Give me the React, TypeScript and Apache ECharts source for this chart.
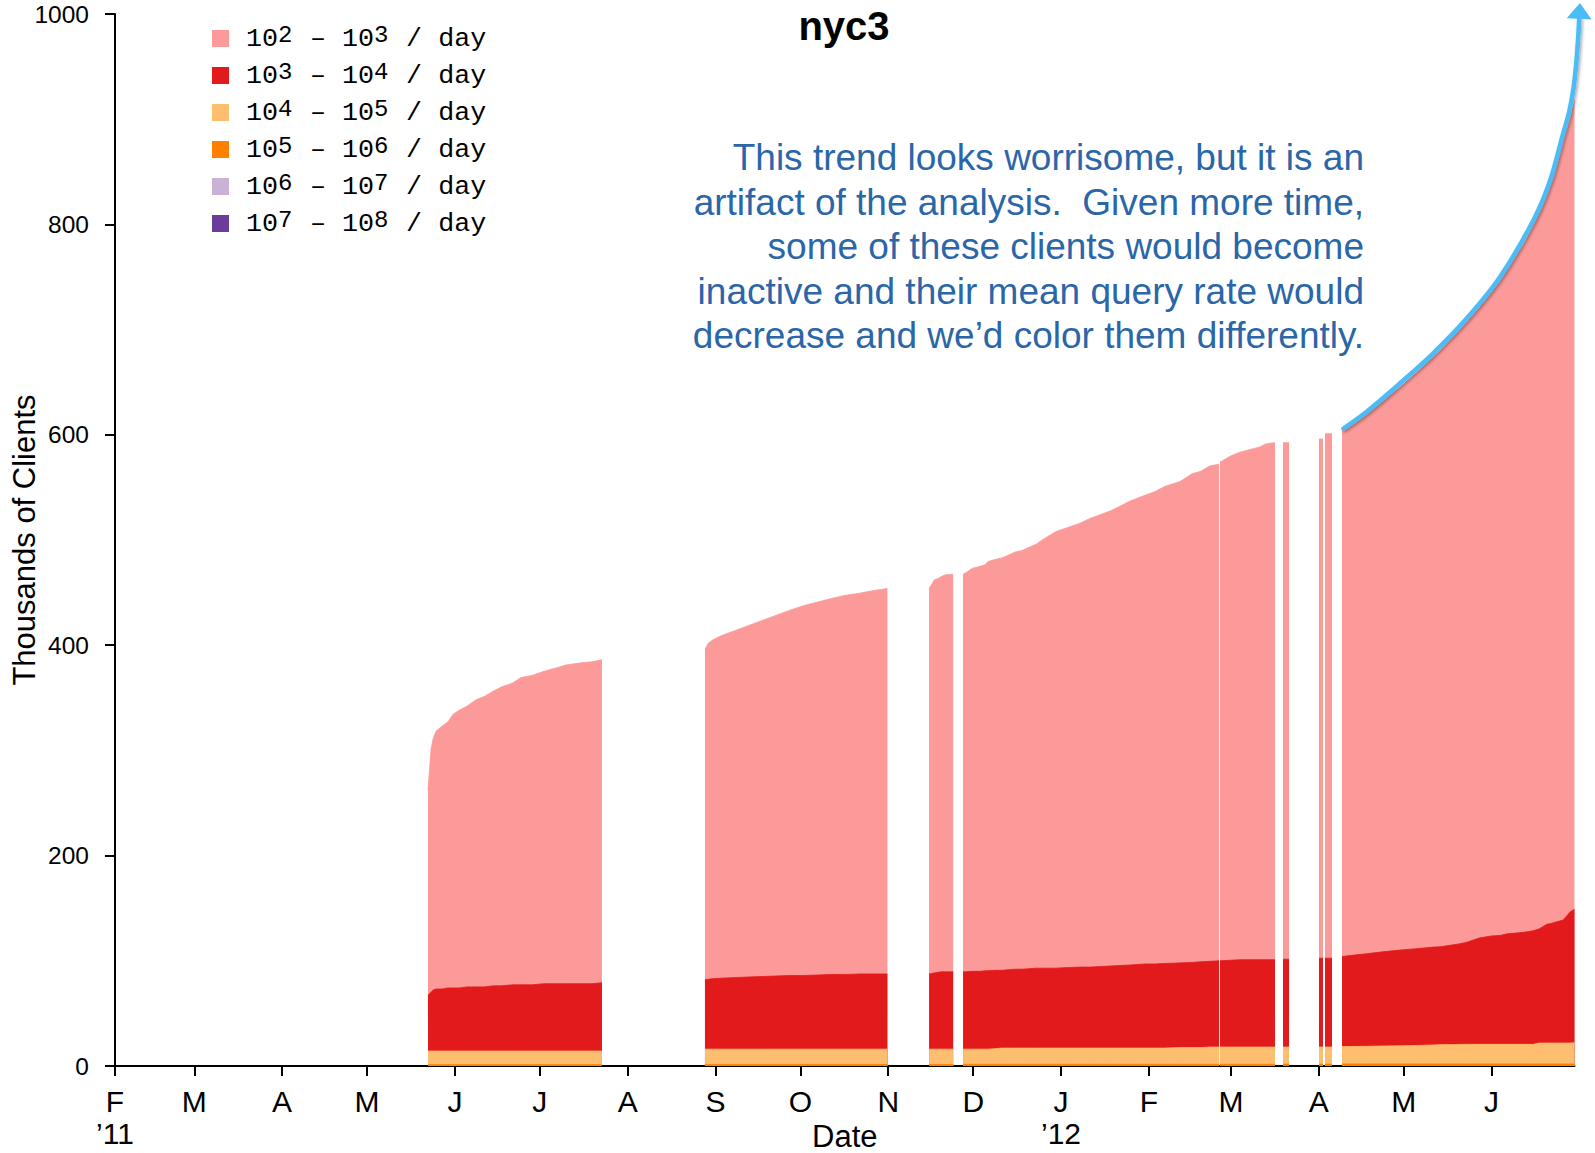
import React, { useEffect, useRef } from 'react';
import * as echarts from 'echarts';

const SANS = "'Liberation Sans', Arial, Helvetica, sans-serif";
const MONO = "'Liberation Mono', 'Courier New', monospace";

// Reading times (UTC, "YYYY-MM-DD HH"); a time whose values are null marks a stretch without data.
const dates = [
  // late May – July 2011
  '2011-05-22 12', '2011-05-23 14', '2011-05-24 08', '2011-05-25 08', '2011-05-27 12', '2011-05-29 14', '2011-05-31 08', '2011-06-02 12', '2011-06-05 08', '2011-06-08 12', '2011-06-11 08',
  '2011-06-14 12', '2011-06-17 08', '2011-06-21 12', '2011-06-24 08', '2011-06-28 04', '2011-07-02 12', '2011-07-06 10', '2011-07-10 04', '2011-07-15 12', '2011-07-19 10', '2011-07-22 22',
  '2011-08-10 00',
  // September – October 2011
  '2011-08-28 07', '2011-08-29 12', '2011-08-31 00', '2011-09-03 00', '2011-09-07 00', '2011-09-12 00', '2011-09-17 00', '2011-09-22 00',
  '2011-09-27 00', '2011-10-02 00', '2011-10-07 00', '2011-10-12 00', '2011-10-17 00', '2011-10-22 00', '2011-10-27 00', '2011-10-31 17',
  '2011-11-08 00',
  // mid November 2011
  '2011-11-15 10', '2011-11-16 12', '2011-11-17 05', '2011-11-18 14', '2011-11-19 14', '2011-11-20 07', '2011-11-21 10', '2011-11-23 22',
  '2011-11-25 12',
  // late November 2011 – February 2012
  '2011-11-27 10', '2011-11-28 12', '2011-11-30 14', '2011-12-03 10', '2011-12-05 05', '2011-12-06 05', '2011-12-08 17', '2011-12-11 05', '2011-12-13 07', '2011-12-15 19',
  '2011-12-18 05', '2011-12-20 17', '2011-12-23 05', '2011-12-25 07', '2011-12-30 06', '2012-01-02 10', '2012-01-07 17', '2012-01-11 06', '2012-01-14 18', '2012-01-18 07',
  '2012-01-21 20', '2012-01-25 09', '2012-01-30 16', '2012-02-03 05', '2012-02-06 17', '2012-02-12 00', '2012-02-16 06', '2012-02-19 02', '2012-02-22 15', '2012-02-25 19',
  '2012-02-26 00',
  // late February – mid March 2012
  '2012-02-26 03', '2012-02-29 16', '2012-03-04 05', '2012-03-07 18', '2012-03-11 06', '2012-03-13 01', '2012-03-14 19', '2012-03-16 13',
  '2012-03-18 00',
  '2012-03-19 09', '2012-03-21 12',
  '2012-03-26 00',
  '2012-04-01 02', '2012-04-02 12',
  '2012-04-02 20',
  '2012-04-03 05', '2012-04-05 16',
  '2012-04-07 00',
  // April – June 2012
  '2012-04-09 05', '2012-04-12 00', '2012-04-17 22', '2012-04-23 12', '2012-04-29 17', '2012-05-05 12', '2012-05-11 11', '2012-05-13 19', '2012-05-20 12', '2012-05-23 06', '2012-05-27 14', '2012-05-31 20',
  '2012-06-04 00', '2012-06-06 11', '2012-06-12 11', '2012-06-15 18', '2012-06-17 18', '2012-06-20 14', '2012-06-21 16', '2012-06-23 18', '2012-06-26 08', '2012-06-28 17', '2012-06-30 07',
];

// Thousands of clients in each mean-query-rate class (queries per day).
const rate2to3 = [
  195, 231, 239, 245, 250, 253, 260, 264, 267, 273, 276, 280, 284, 287, 292, 294, 297, 300, 303, 305, 306, 307,
  null,
  314, 319.5, 322, 325.5, 329, 333.5, 338, 342.5, 347, 351.5, 354.5, 357.5, 360.5, 362, 364.5, 366.5,
  null,
  366.5, 370.5, 373.5, 374.5, 375.5, 376.5, 377.5, 378,
  null,
  378, 379.5, 383, 385, 386, 389, 390.5, 392, 394, 396.5, 398, 400.5, 403, 407, 415, 417.5, 422, 426.5, 429.5, 432.5,
  436.5, 441, 445.5, 449, 453.5, 457.5, 464.5, 466, 471, 472,
  null,
  474, 479, 482.5, 485, 487.5, 490, 491, 491.5,
  null,
  491, 491,
  null,
  493.5, 493.5,
  null,
  498.5, 498.5,
  null,
  500, 504, 512.5, 523.5, 535, 547.5, 561, 566.5, 583, 589.5, 599.5, 611.5, 622, 631.5, 654.5, 670.5, 683, 695, 701.5, 720, 743, 754, 769,
];

const rate3to4 = [
  53, 56, 58, 59, 59, 60, 60, 60, 61, 61, 61, 62, 62, 63, 63, 63, 64, 64, 64, 64, 64, 65,
  null,
  66, 66.5, 67, 67.5, 68, 68.5, 69, 69.5, 70, 70, 70.5, 71, 71, 71.5, 71.5, 71.5,
  null,
  71.5, 72, 72.5, 73, 73.5, 73.5, 73.5, 73.5,
  null,
  73.5, 73.5, 74, 74, 74.5, 74.5, 74.5, 74, 74.5, 75, 75, 75.5, 76, 76, 76, 76.5, 77, 77, 77.5, 78,
  78.5, 79, 80, 80, 80.5, 80.5, 81, 81.5, 81.5, 82,
  null,
  82, 82.5, 83, 83, 83, 83, 83, 83,
  null,
  83.5, 83.5,
  null,
  84.5, 84.5,
  null,
  84.5, 84.5,
  null,
  85.5, 86.5, 88, 89.5, 91, 92, 93, 93, 95.5, 97, 101, 103, 103.5, 105, 106.5, 108, 108.5, 113, 113.5, 115, 117, 124.5, 127,
];

const rate4to5 = [
  12.9, 12.9, 12.9, 12.9, 12.9, 12.9, 12.9, 12.9, 12.9, 12.9, 12.9, 12.9, 12.9, 12.9, 12.9, 12.9, 12.9, 12.9, 12.9, 12.9, 12.9, 12.9,
  null,
  14.5, 14.5, 14.5, 14.5, 14.5, 14.5, 14.5, 14.5, 14.5, 14.5, 14.5, 14.5, 14.5, 14.5, 14.5, 14.5,
  null,
  14.5, 14.5, 14.5, 14.5, 14.5, 14.5, 14.5, 14.5,
  null,
  14.4, 14.4, 14.4, 14.4, 14.4, 14.4, 14.9, 15.4, 15.4, 15.4, 15.4, 15.4, 15.4, 15.4, 15.4, 15.4, 15.4, 15.4, 15.4, 15.4,
  15.4, 15.4, 15.4, 15.4, 15.4, 15.9, 15.9, 15.9, 16.4, 16.4,
  null,
  16.4, 16.4, 16.4, 16.4, 16.4, 16.4, 16.4, 16.4,
  null,
  16.2, 16.2,
  null,
  16.2, 16.2,
  null,
  16.2, 16.2,
  null,
  16.5, 16.5, 16.7, 17, 17.2, 17.5, 18, 18.3, 18.5, 18.6, 18.6, 18.6, 18.6, 18.6, 18.6, 18.6, 19.8, 19.8, 19.8, 19.8, 19.8, 19.8, 20,
];

const rate5to6 = [
  1.3, 1.3, 1.3, 1.3, 1.3, 1.3, 1.3, 1.3, 1.3, 1.3, 1.3, 1.3, 1.3, 1.3, 1.3, 1.3, 1.3, 1.3, 1.3, 1.3, 1.3, 1.3,
  null,
  1.5, 1.5, 1.5, 1.5, 1.5, 1.5, 1.5, 1.5, 1.5, 1.5, 1.5, 1.5, 1.5, 1.5, 1.5, 1.5,
  null,
  1.5, 1.5, 1.5, 1.5, 1.5, 1.5, 1.5, 1.5,
  null,
  1.6, 1.6, 1.6, 1.6, 1.6, 1.6, 1.6, 1.6, 1.6, 1.6, 1.6, 1.6, 1.6, 1.6, 1.6, 1.6, 1.6, 1.6, 1.6, 1.6,
  1.6, 1.6, 1.6, 1.6, 1.6, 1.6, 1.6, 1.6, 1.6, 1.6,
  null,
  1.6, 1.6, 1.6, 1.6, 1.6, 1.6, 1.6, 1.6,
  null,
  1.8, 1.8,
  null,
  1.8, 1.8,
  null,
  1.8, 1.8,
  null,
  2, 2, 2, 2, 2, 2, 2, 2, 2, 2, 2, 2, 2, 2, 2, 2, 2, 2, 2, 2, 2, 2, 2,
];

// The two fastest classes hold too few clients to be visible at this scale.
const rate6to7 = rate2to3.map((v) => (v === null ? null : 0));
const rate7to8 = rate2to3.map((v) => (v === null ? null : 0));

// Legend order (top to bottom): exponent ranges and colours.
const rateExponents = [[2, 3], [3, 4], [4, 5], [5, 6], [6, 7], [7, 8]];
const rateColors = ['#FB9A99', '#E31A1C', '#FDBF6F', '#FF7F00', '#CAB2D6', '#6A3D9A'];
const rateValues = [rate2to3, rate3to4, rate4to5, rate5to6, rate6to7, rate7to8];

// X axis: a tick on the first of every month.
const xStart = '2011-02-01 00';
const xEnd = '2012-06-30 07';
const monthTicks = [
  '2011-02-01', '2011-03-01', '2011-04-01', '2011-05-01', '2011-06-01', '2011-07-01', '2011-08-01', '2011-09-01',
  '2011-10-01', '2011-11-01', '2011-12-01', '2012-01-01', '2012-02-01', '2012-03-01', '2012-04-01', '2012-05-01', '2012-06-01',
];
const monthLabels = ['F', 'M', 'A', 'M', 'J', 'J', 'A', 'S', 'O', 'N', 'D', 'J', 'F', 'M', 'A', 'M', 'J'];
const yearLabels: Record<string, string> = { '2011-02-01': '\u201911', '2012-01-01': '\u201912' };

const yMin = 0;
const yMax = 1000;
const yStep = 200;

const noteLines = [
  'This trend looks worrisome, but it is an',
  'artifact of the analysis.  Given more time,',
  'some of these clients would become',
  'inactive and their mean query rate would',
  'decrease and we\u2019d color them differently.',
];

// Hand-drawn annotation arrow, anchored in data space (last point is the tip).
const arrowDates = ['2012-04-09 17', '2012-04-17 22', '2012-04-29 17', '2012-05-11 10', '2012-05-23 05', '2012-06-04 00', '2012-06-15 19', '2012-06-21 17', '2012-06-26 07', '2012-06-28 10', '2012-06-29 23', '2012-07-01 00', '2012-07-01 17', '2012-07-02 05'];
const arrowValues = [606, 622, 649, 677.5, 710.5, 750, 804, 842, 886.5, 907, 930, 956, 983, 1010.5];

const SUP = '\u2070\u00B9\u00B2\u00B3\u2074\u2075\u2076\u2077\u2078\u2079';

function toTime(s: string): number {
  const [d, h = '0'] = s.split(' ');
  const [y, m, day] = d.split('-').map(Number);
  return Date.UTC(y, m - 1, day, Number(h));
}

const tickTimes = monthTicks.map((d) => toTime(d));

function rateName(i: number) {
  const [a, b] = rateExponents[i];
  return `10${SUP[a]} \u2013 10${SUP[b]} / day`;
}

function buildSeries(manualStack: boolean) {
  const names = rateExponents.map((_, i) => rateName(i));
  const series = [] as any[];
  const order: number[] = [];
  for (let i = rateExponents.length - 1; i >= 0; i--) order.push(i); // bottom-up
  const drawOrder = manualStack ? order.slice().reverse() : order;
  for (const i of drawOrder) {
    let values: (number | null)[] = rateValues[i];
    if (manualStack) {
      // cumulative top of this band (sum of this class and every faster class)
      values = dates.map((_, k) => {
        if (rateValues[i][k] === null) return null;
        let s = 0;
        for (let j = i; j < rateValues.length; j++) s += (rateValues[j][k] as number) || 0;
        return s;
      });
    }
    const visible = i <= 3;
    series.push({
      type: 'line',
      name: names[i],
      stack: manualStack ? undefined : 'clients',
      dimensions: [
        { name: 'day', type: 'time' },
        { name: 'clients', type: 'float' },
      ],
      encode: { x: 'day', y: 'clients' },
      data: dates.map((d, k) => [toTime(d), values[k]]),
      showSymbol: false,
      symbol: 'none',
      connectNulls: false,
      silent: true,
      color: rateColors[i],
      itemStyle: { color: rateColors[i] },
      lineStyle: { width: visible ? 0.8 : 0, color: rateColors[i] },
      areaStyle: { color: rateColors[i], opacity: 1 },
      emphasis: { disabled: true },
    });
  }
  return series;
}

function buildOption() {
  const names = rateExponents.map((_, i) => rateName(i));
  const richByName: Record<string, string> = {};
  rateExponents.forEach(([a, b], i) => {
    richByName[names[i]] = `{f|10}{s|${a}}{b| \u2013 10}{s|${b}}{b| / day}`;
  });

  return {
    animation: false,
    backgroundColor: '#ffffff',
    title: {
      text: 'nyc3',
      left: 844,
      top: 26,
      padding: 0,
      textAlign: 'center',
      textVerticalAlign: 'middle',
      textStyle: { fontFamily: SANS, fontSize: 40, fontWeight: 'bold', color: '#000', lineHeight: 40 },
    },
    legend: {
      orient: 'vertical',
      left: 212,
      top: 23.5,
      padding: 0,
      itemWidth: 17,
      itemHeight: 17,
      itemGap: 8.5,
      icon: 'rect',
      selectedMode: false,
      itemStyle: { borderWidth: 0 },
      data: names,
      formatter: (name: string) => richByName[name] || name,
      textStyle: {
        color: '#000',
        fontFamily: MONO,
        fontSize: 26.7,
        rich: {
          f: { fontFamily: MONO, fontSize: 26.7, lineHeight: 30, color: '#000', padding: [0, 0, 0, 12] },
          b: { fontFamily: MONO, fontSize: 26.7, lineHeight: 30, color: '#000' },
          s: { fontFamily: MONO, fontSize: 24, lineHeight: 19, verticalAlign: 'top', width: 16, color: '#000' },
        },
      },
    },
    grid: { left: 115, right: 20.5, top: 14, bottom: 87, outerBoundsMode: 'none', containLabel: false },
    xAxis: {
      type: 'value',
      min: toTime(xStart),
      max: toTime(xEnd),
      scale: true,
      name: 'Date',
      nameLocation: 'middle',
      nameGap: 55,
      nameMoveOverlap: false,
      nameTextStyle: { fontFamily: SANS, fontSize: 31, color: '#000' },
      axisLine: { show: true, onZero: false, lineStyle: { color: '#000', width: 2 } },
      axisTick: { show: true, inside: false, length: 10, lineStyle: { color: '#000', width: 2 }, customValues: tickTimes },
      axisLabel: {
        show: true,
        customValues: tickTimes,
        hideOverlap: false,
        showMinLabel: true,
        showMaxLabel: true,
        margin: 20,
        fontFamily: SANS,
        fontSize: 30,
        lineHeight: 31.5,
        color: '#000',
        formatter: (value: number) => {
          const k = tickTimes.findIndex((tt) => Math.abs(tt - value) < 60000);
          if (k < 0) return '';
          const yl = yearLabels[monthTicks[k]];
          return yl ? `${monthLabels[k]}\n${yl}` : monthLabels[k];
        },
      },
      splitLine: { show: false },
      minorTick: { show: false },
    },
    yAxis: {
      type: 'value',
      min: yMin,
      max: yMax,
      interval: yStep,
      name: 'Thousands of Clients',
      nameLocation: 'middle',
      nameGap: 75,
      nameRotate: 90,
      nameMoveOverlap: false,
      nameTextStyle: { fontFamily: SANS, fontSize: 31, color: '#000' },
      axisLine: { show: true, lineStyle: { color: '#000', width: 2 } },
      axisTick: { show: true, inside: false, length: 10, lineStyle: { color: '#000', width: 2 } },
      axisLabel: { show: true, margin: 26, fontFamily: SANS, fontSize: 24.5, color: '#000', formatter: (v: number) => String(v) },
      splitLine: { show: false },
    },
    series: buildSeries(false),
    graphic: {
      elements: [
        {
          type: 'text',
          id: 'note',
          x: 1364,
          y: 135.5,
          silent: true,
          z: 50,
          style: {
            text: noteLines.join('\n'),
            fill: '#2a66a8',
            fontFamily: SANS,
            fontSize: 37,
            lineHeight: 44.5,
            align: 'right',
            verticalAlign: 'top',
          },
        },
      ],
    },
  };
}

export default function App() {
  const ref = useRef<HTMLDivElement>(null);
  useEffect(() => {
    const el = ref.current;
    if (!el) return;
    const chart = echarts.init(el, null, { renderer: 'svg', width: 1595, height: 1153 });
    chart.setOption(buildOption() as any);

    // Verify the stacked layout; fall back to explicit cumulative tops if stacking went astray.
    try {
      const model = (chart as any).getModel();
      const top = model.getSeriesByIndex(model.getSeriesCount() - 1);
      const pts = top.getData().getLayout('points');
      const x0 = pts ? pts[0] : NaN;
      if (!(x0 > 100 && x0 < 1600)) {
        chart.setOption({ series: buildSeries(true) } as any, { replaceMerge: ['series'] } as any);
      }
    } catch (e) {
      chart.setOption({ series: buildSeries(true) } as any, { replaceMerge: ['series'] } as any);
    }

    try {
      const pts = arrowDates.map(
        (d, i) => chart.convertToPixel({ xAxisIndex: 0, yAxisIndex: 0 }, [toTime(d), arrowValues[i]]) as number[],
      );
      if (pts.every((p) => p && isFinite(p[0]) && isFinite(p[1]))) {
        const tip = pts[pts.length - 1];
        const last = pts[pts.length - 2];
        let dx = tip[0] - last[0];
        let dy = tip[1] - last[1];
        const len = Math.hypot(dx, dy) || 1;
        dx /= len;
        dy /= len;
        const headLen = 16;
        const halfW = 12.5;
        const base = [tip[0] - dx * headLen, tip[1] - dy * headLen];
        const left = [base[0] - dy * halfW, base[1] + dx * halfW];
        const right = [base[0] + dy * halfW, base[1] - dx * halfW];
        const linePts = pts.slice(0, pts.length - 1).concat([base]);
        chart.setOption({
          graphic: {
            elements: [
              {
                type: 'polyline',
                id: 'arrowLine',
                silent: true,
                z: 60,
                shape: { points: linePts, smooth: 0.35 },
                style: {
                  stroke: '#4cbcf6',
                  lineWidth: 4.5,
                  fill: null,
                  lineCap: 'round',
                  lineJoin: 'round',
                  shadowBlur: 3,
                  shadowColor: 'rgba(0,0,0,0.35)',
                  shadowOffsetX: 1.5,
                  shadowOffsetY: 1.5,
                },
              },
              {
                type: 'polygon',
                id: 'arrowHead',
                silent: true,
                z: 61,
                shape: { points: [tip, left, right] },
                style: { fill: '#4cbcf6' },
              },
            ],
          },
        } as any);
      }
    } catch (e) {
      // the arrow is decoration only
    }
    return () => chart.dispose();
  }, []);
  return (
    <div
      ref={ref}
      style={{ position: 'absolute', left: 0, top: 0, width: 1595, height: 1153, background: '#fff' }}
    />
  );
}
